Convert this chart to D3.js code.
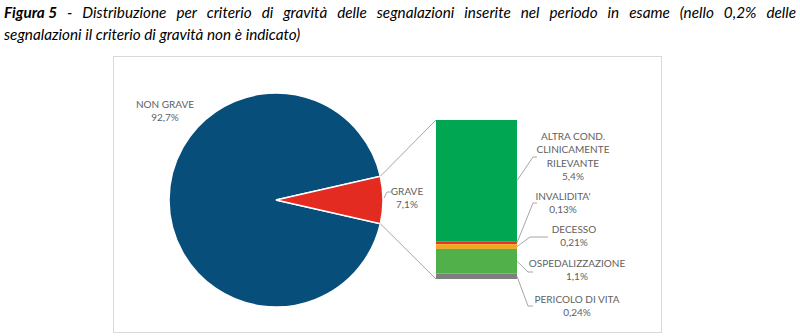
<!DOCTYPE html>
<html>
<head>
<meta charset="utf-8">
<script src="https://cdn.jsdelivr.net/npm/d3@7/dist/d3.min.js"></script>
<style>
  html, body { margin: 0; padding: 0; background: #fff; }
  svg { display: block; }
</style>
</head>
<body>
<svg id="chart" width="800" height="336"></svg>
<script>
// Pie: share of reports by seriousness
const pieLabels = ["NON GRAVE", "GRAVE"];
const pieValues = [92.7, 7.1];

// Breakdown of the serious reports (stacked column, top to bottom)
const barLabels = [
  ["ALTRA COND.", "CLINICAMENTE", "RILEVANTE"],
  ["INVALIDITA'"],
  ["DECESSO"],
  ["OSPEDALIZZAZIONE"],
  ["PERICOLO DI VITA"]
];
const barValues = [5.4, 0.13, 0.21, 1.1, 0.24];

const titleBold = "Figura 5";
const titleLine1 = "- Distribuzione per criterio di gravità delle segnalazioni inserite nel periodo in esame (nello 0,2% delle";
const titleLine2 = "segnalazioni il criterio di gravità non è indicato)";

const pieColors = ["#074e7b", "#e32b21"];
const barColors = ["#00a651", "#e8352a", "#f5a51e", "#52b04a", "#7f7f7f"];
const lineColor = "#a6a6a6";
const textColor = "#5f5f5f";
const labelFont = "Lato, 'Open Sans', sans-serif";

const fmt = v => String(v).replace(".", ",") + "%";

const svg = d3.select("#chart");

// ---- title (first line justified to the full width) ----
const titleFont = "Lato, 'Open Sans', sans-serif";
const titleSize = 15.3;
const tLeft = 4, tRight = 796;
const t1 = svg.append("text")
  .attr("y", 18)
  .attr("font-family", titleFont)
  .attr("font-size", titleSize)
  .attr("font-style", "italic")
  .attr("fill", "#000");
const words1 = [titleBold].concat(titleLine1.split(" "));
const spans = words1.map((w, i) => t1.append("tspan")
  .attr("font-weight", i === 0 ? "bold" : "normal")
  .text(w));
const widths = spans.map(s => s.node().getComputedTextLength());
const gap = (tRight - tLeft - d3.sum(widths)) / (words1.length - 1);
let xw = tLeft;
spans.forEach((s, i) => { s.attr("x", xw); xw += widths[i] + gap; });

svg.append("text")
  .attr("x", tLeft).attr("y", 40)
  .attr("font-family", titleFont)
  .attr("font-size", titleSize)
  .attr("font-style", "italic")
  .attr("fill", "#000")
  .text(titleLine2);

// ---- chart frame ----
svg.append("rect")
  .attr("x", 113.5).attr("y", 56.5)
  .attr("width", 548).attr("height", 276)
  .attr("fill", "#fff")
  .attr("stroke", "#d9d9d9");

// ---- pie ----
const cx = 276, cy = 200, r = 107;
const total = d3.sum(pieValues);
const graveSpan = 2 * Math.PI * pieValues[1] / total;
const start = Math.PI / 2 + graveSpan / 2;
const pie = d3.pie().sort(null).startAngle(start).endAngle(start + 2 * Math.PI);
const arcs = pie(pieValues);
const arc = d3.arc().innerRadius(0).outerRadius(r);

const gPie = svg.append("g").attr("transform", `translate(${cx},${cy})`);
gPie.selectAll("path").data(arcs).join("path")
  .attr("d", arc)
  .attr("fill", (d, i) => pieColors[i])
  .attr("stroke", "#fff")
  .attr("stroke-width", 1.5);

const polar = (a, rad) => [cx + rad * Math.sin(a), cy - rad * Math.cos(a)];

// ---- stacked column ----
const barX0 = 436, barX1 = 517;
const y = d3.scaleLinear().domain([0, d3.sum(barValues)]).range([279, 120]);
// cumulate from the bottom of the column
const segs = [];
let acc = 0;
for (let i = barValues.length - 1; i >= 0; i--) {
  segs[i] = { y0: acc, y1: acc + barValues[i], i };
  acc += barValues[i];
}
svg.append("g").selectAll("rect").data(segs).join("rect")
  .attr("x", barX0)
  .attr("width", barX1 - barX0)
  .attr("y", d => y(d.y1))
  .attr("height", d => y(d.y0) - y(d.y1))
  .attr("fill", d => barColors[d.i]);

// connectors from the GRAVE slice to the column
const gArc = arcs[1];
const pTop = polar(gArc.startAngle, r);
const pBot = polar(gArc.endAngle, r);
svg.append("line")
  .attr("x1", pTop[0]).attr("y1", pTop[1])
  .attr("x2", barX0).attr("y2", y(d3.sum(barValues)))
  .attr("stroke", lineColor).attr("stroke-width", 1);
svg.append("line")
  .attr("x1", pBot[0]).attr("y1", pBot[1])
  .attr("x2", barX0).attr("y2", y(0))
  .attr("stroke", lineColor).attr("stroke-width", 1);

// ---- labels ----
function label(lines, x, yb, lh) {
  const t = svg.append("text")
    .attr("font-family", labelFont)
    .attr("font-size", 10)
    .attr("fill", textColor)
    .attr("text-anchor", "middle");
  lines.forEach((l, k) => t.append("tspan").attr("x", x).attr("y", yb + k * lh).text(l));
}

label([pieLabels[0], fmt(pieValues[0])], 165, 108, 12.5);
label([pieLabels[1], fmt(pieValues[1])], 407, 195, 13);

// GRAVE leader
const gMid = polar((gArc.startAngle + gArc.endAngle) / 2, r);
svg.append("path")
  .attr("d", `M${gMid[0] + 1},${gMid[1] - 2} L${gMid[0] + 4},${gMid[1] - 8} L${gMid[0] + 8},${gMid[1] - 8}`)
  .attr("fill", "none").attr("stroke", lineColor);

// column labels: text centre, first baseline, elbow point
const barLabelLayout = [
  { x: 573, y: 140, ex: 533, ey: 157, hx: 537 },
  { x: 563, y: 200, ex: 533, ey: 203, hx: 537 },
  { x: 574, y: 233, ex: 530, ey: 237, hx: 548 },
  { x: 577, y: 267, ex: 528, ey: 272, hx: 533 },
  { x: 577, y: 303, ex: 528, ey: 306, hx: 533 }
];
barLabels.forEach((lines, i) => {
  const L = barLabelLayout[i];
  label(lines.concat([fmt(barValues[i])]), L.x, L.y, 13.3);
  const sy = (y(segs[i].y0) + y(segs[i].y1)) / 2;
  svg.append("path")
    .attr("d", `M${barX1},${sy} L${L.ex},${L.ey} L${L.hx},${L.ey}`)
    .attr("fill", "none").attr("stroke", lineColor);
});
</script>
</body>
</html>
